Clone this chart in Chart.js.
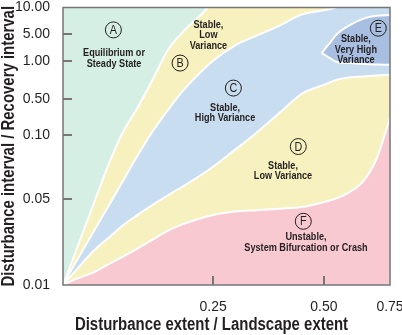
<!DOCTYPE html>
<html>
<head>
<meta charset="utf-8">
<script src="https://cdn.jsdelivr.net/npm/chart.js@4.4.1/dist/chart.umd.min.js"></script>
<style>
  html, body { margin: 0; padding: 0; background: #fff; }
</style>
</head>
<body>
<canvas id="chart" width="402" height="335"></canvas>
<script>
// tick labels
const xTicks = [0.25, 0.50, 0.75];
const yTicks = [0.01, 0.05, 0.10, 0.50, 1.00, 5.00, 10.00];

// boundaries between regions
const extent = [0, 0.02, 0.05, 0.08, 0.1, 0.125, 0.15, 0.175, 0.2, 0.25, 0.3, 0.35, 0.4, 0.45, 0.5, 0.55, 0.6, 0.65, 0.7, 0.75];
const edgeAB = [0.01, 0.018, 0.044, 0.0775, 0.114, 0.35, 0.72, 1.93, 5.3, 12, 40, 40, 40, 40, 40, 40, 40, 40, 40, 40];
const edgeBC = [0.01, 0.0149, 0.0266, 0.0473, 0.0608, 0.0805, 0.12, 0.306, 0.58, 1.0, 2.52, 4.57, 6.23, 8.31, 9.32, 10.1, 12, 15, 18, 20];
const edgeCD = [0.01, 0.0129, 0.0187, 0.0251, 0.0305, 0.0371, 0.0447, 0.0519, 0.0571, 0.0707, 0.0852, 0.114, 0.268, 0.548, 0.645, 0.707, 0.740, 0.751, 0.763, 0.774];
const edgeDF = [0.01, 0.0111, 0.0126, 0.0151, 0.017, 0.0199, 0.0234, 0.0276, 0.0311, 0.0369, 0.0394, 0.0404, 0.0415, 0.0428, 0.047, 0.0503, 0.054, 0.0606, 0.0775, 0.214];

// region E (closed blob, top and bottom edges)
const extentE = [0.495, 0.52, 0.55, 0.6, 0.65, 0.7, 0.75];
const topE = [1.61, 2.77, 5.0, 6.35, 7.46, 8.03, 8.22];
const bottomE = [1.61, 1.2, 0.978, 0.959, 0.942, 0.935, 0.93];

// region labels
const regionLetters = ['A', 'B', 'C', 'D', 'E', 'F'];
const regionNames = [
    ['Equilibrium or', 'Steady State'],
    ['Stable,', 'Low', 'Variance'],
    ['Stable,', 'High Variance'],
    ['Stable,', 'Low Variance'],
    ['Stable,', 'Very High', 'Variance'],
    ['Unstable,', 'System Bifurcation or Crash']
];
const letterAt = [[0.0839, 5.55], [0.195, 0.959], [0.2957, 0.608], [0.4421, 0.0881], [0.7057, 5.80], [0.4534, 0.0328]];
const nameAt = [[0.085, 1.147], [0.2422, 4.55], [0.277, 0.2675], [0.4077, 0.0677], [0.621, 1.93], [0.4595, 0.02205]];

const xTitle = 'Disturbance extent / Landscape extent';
const yTitle = 'Disturbance interval / Recovery interval';

const sans = "'Liberation Sans', Arial, sans-serif";
const squeeze = 0.83;   // the original uses a condensed face
const ink = '#231f20';

// the printed axes are stretched unevenly between ticks
const warps = {
    x: { anchors: [0, 0.25, 0.5, 0.75], spots: [0, 0.459, 0.798, 1], log: false },
    y: { anchors: yTicks, spots: [0, 0.311, 0.541, 0.671, 0.808, 0.905, 1], log: true }
};

function toDecimal(w, v) {
    const f = w.log ? Math.log10 : (t => t);
    const k = w.anchors.map(f);
    const t = f(v);
    let i = 0;
    while (i < k.length - 2 && t > k[i + 1]) i++;
    return w.spots[i] + (t - k[i]) / (k[i + 1] - k[i]) * (w.spots[i + 1] - w.spots[i]);
}

function fromDecimal(w, d) {
    const k = w.anchors.map(w.log ? Math.log10 : (t => t));
    let i = 0;
    while (i < w.spots.length - 2 && d > w.spots[i + 1]) i++;
    const t = k[i] + (d - w.spots[i]) / (w.spots[i + 1] - w.spots[i]) * (k[i + 1] - k[i]);
    return w.log ? Math.pow(10, t) : t;
}

class WarpScale extends Chart.LinearScale {
    static id = 'warp';
    static defaults = {};
    buildTicks() {
        return (this.axis === 'x' ? xTicks : yTicks).map(v => ({ value: v }));
    }
    getPixelForValue(value) {
        if (value === null || value === undefined || isNaN(value)) return NaN;
        return this.getPixelForDecimal(toDecimal(warps[this.axis], value));
    }
    getValueForPixel(pixel) {
        return fromDecimal(warps[this.axis], this.getDecimalForPixel(pixel));
    }
}
Chart.register(WarpScale);

const pts = (xs, ys) => xs.map((x, i) => ({ x: x, y: ys[i] }));

function edge(data, fill, color, width) {
    return {
        data: data,
        fill: fill,
        backgroundColor: color,
        borderColor: '#ffffff',
        borderWidth: width,
        pointRadius: 0,
        cubicInterpolationMode: 'monotone',
        clip: 0
    };
}

function narrowText(ctx, s, x, y, font, angle) {
    ctx.save();
    ctx.translate(x, y);
    if (angle) ctx.rotate(angle);
    ctx.scale(squeeze, 1);
    ctx.font = font;
    ctx.fillText(s, 0, 0);
    ctx.restore();
}

const framePlugin = {
    id: 'frame',
    afterDatasetsDraw(chart) {
        const { ctx, chartArea: a, scales: { x, y } } = chart;
        ctx.save();
        ctx.strokeStyle = '#767676';
        ctx.lineWidth = 2;
        ctx.beginPath();
        yTicks.slice(1, -1).forEach(v => {
            const py = Math.round(y.getPixelForValue(v));
            ctx.moveTo(a.left, py);
            ctx.lineTo(a.left + 9, py);
        });
        xTicks.slice(0, -1).forEach(v => {
            const px = Math.round(x.getPixelForValue(v));
            ctx.moveTo(px, a.bottom);
            ctx.lineTo(px, a.bottom - 9);
        });
        ctx.stroke();
        ctx.lineWidth = 1.5;
        ctx.strokeRect(a.left, a.top, a.right - a.left, a.bottom - a.top);
        ctx.restore();
    }
};

const labelPlugin = {
    id: 'regionLabels',
    afterDatasetsDraw(chart) {
        const { ctx, chartArea: a, scales: { x, y } } = chart;
        ctx.save();
        ctx.fillStyle = ink;
        ctx.strokeStyle = ink;
        ctx.textAlign = 'center';
        ctx.textBaseline = 'middle';
        regionLetters.forEach((letter, i) => {
            const cx = x.getPixelForValue(letterAt[i][0]);
            const cy = y.getPixelForValue(letterAt[i][1]);
            ctx.lineWidth = 1;
            ctx.beginPath();
            ctx.arc(cx, cy, 8, 0, Math.PI * 2);
            ctx.stroke();
            narrowText(ctx, letter, cx, cy + 0.5, '13px ' + sans);

            const lines = regionNames[i];
            const tx = x.getPixelForValue(nameAt[i][0]);
            const ty = y.getPixelForValue(nameAt[i][1]);
            lines.forEach((s, j) => {
                narrowText(ctx, s, tx, ty + (j - (lines.length - 1) / 2) * 10.5, 'bold 11px ' + sans);
            });
        });
        // axis titles; the x title sits a little left of the plot centre in the original
        narrowText(ctx, xTitle, 211.5, 325, 'bold 18px ' + sans);
        narrowText(ctx, yTitle, 9.5, (a.top + a.bottom) / 2, 'bold 18px ' + sans, -Math.PI / 2);
        ctx.restore();
    }
};

new Chart(document.getElementById('chart'), {
    type: 'line',
    data: {
        datasets: [
            edge(pts(extentE, topE), false, '#a9bfe2', 2),
            edge(pts(extentE, bottomE), '-1', '#a9bfe2', 2),
            edge(pts(extent, edgeAB), 'end', '#d6efe4', 2),
            edge(pts(extent, edgeBC), '-1', '#f7f0bf', 2),
            edge(pts(extent, edgeCD), '-1', '#c8ddef', 2),
            edge(pts(extent, edgeDF), '-1', '#f7f0bf', 2),
            edge(pts(extent, edgeDF), 'start', '#f9c9d1', 0)
        ]
    },
    options: {
        responsive: false,
        animation: false,
        events: [],
        layout: { padding: { top: 7.5, right: 12, left: 0, bottom: 0 } },
        plugins: {
            legend: { display: false },
            tooltip: { enabled: false },
            filler: { drawTime: 'beforeDatasetsDraw' }
        },
        scales: {
            x: {
                type: 'warp',
                min: 0,
                max: 0.75,
                grid: { display: false },
                border: { display: false },
                ticks: {
                    autoSkip: false,
                    maxRotation: 0,
                    padding: 7,
                    color: ink,
                    font: { family: sans, size: 14, lineHeight: 1 },
                    callback: v => Number(v).toFixed(2)
                },
                afterFit: scale => {
                    scale.height = 50;
                    scale.paddingRight = 0;
                    scale.paddingLeft = 0;
                }
            },
            y: {
                type: 'warp',
                min: 0.01,
                max: 10,
                grid: { display: false },
                border: { display: false },
                ticks: {
                    autoSkip: false,
                    padding: 5,
                    color: ink,
                    font: { family: sans, size: 14, lineHeight: 1 },
                    callback: v => Number(v).toFixed(2)
                },
                afterFit: scale => {
                    scale.width = 63;
                    scale.paddingTop = 0;
                    scale.paddingBottom = 0;
                }
            }
        }
    },
    plugins: [framePlugin, labelPlugin]
});
</script>
</body>
</html>
